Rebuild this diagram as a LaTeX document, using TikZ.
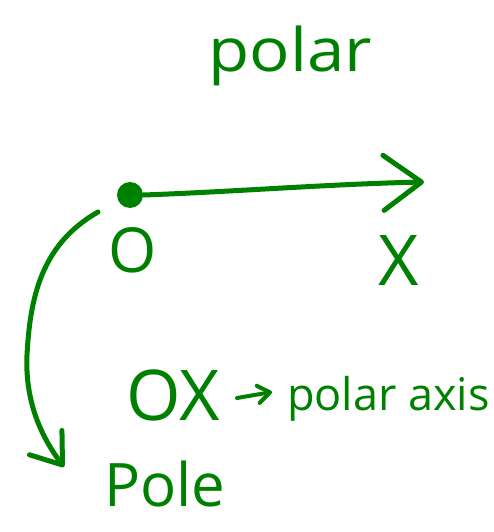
\documentclass[tikz,border=0pt]{standalone}
\usepackage{fontspec}
\setmainfont{Open Sans}
\usetikzlibrary{arrows.meta}
\definecolor{ink}{RGB}{0,128,0}
\tikzset{
  pen/.style={draw=ink, line width=5pt, line cap=round, line join=round},
  word/.style={text=ink, inner sep=0pt, anchor=base west},
  barb/.style={-{Straight Barb[length=#1, width=1.45*#1, line cap=round, line join=round]}},
}
\begin{document}
\begin{tikzpicture}[x=1pt, y=-1pt]
  \useasboundingbox (0,0) rectangle (494,532);
  % title
  \node[word, font=\fontsize{60}{60}\selectfont, xscale=1.12] (title) at (208,72) {polar};
  % pole point and the axis through it
  \node[circle, fill=ink, minimum size=26pt, inner sep=0pt] (dot) at (130,195) {};
  \coordinate (axisend) at (424,182);
  \draw[pen, barb=38pt] (dot.east) .. controls (230,192) and (330,184) .. (axisend);
  % labels of the two points
  \node[word, font=\fontsize{62}{62}\selectfont] (olab) at (108,272) {O};
  \node[word, font=\fontsize{70}{70}\selectfont] (xlab) at (378,285) {X};
  % note: OX -> polar axis
  \node[word, font=\fontsize{70}{70}\selectfont] (ox) at (126,420) {OX};
  \node[word, font=\fontsize{45}{45}\selectfont] (paxis) at (287,410) {polar axis};
  \coordinate (ns) at (237,398);
  \coordinate (ne) at (272,392);
  \draw[pen, line width=4pt, barb=12pt] (ns) -- (ne);
  % curved pointer to the word Pole
  \coordinate (cstart) at (98,212);
  \coordinate (cend) at (64,467);
  \draw[pen, barb=28pt] (cstart) .. controls (40,245) and (30,300) .. (27,355)
                        .. controls (25,400) and (40,435) .. (cend);
  \node[word, font=\fontsize{60}{60}\selectfont] (polew) at (104,506) {Pole};
\end{tikzpicture}
\end{document}
